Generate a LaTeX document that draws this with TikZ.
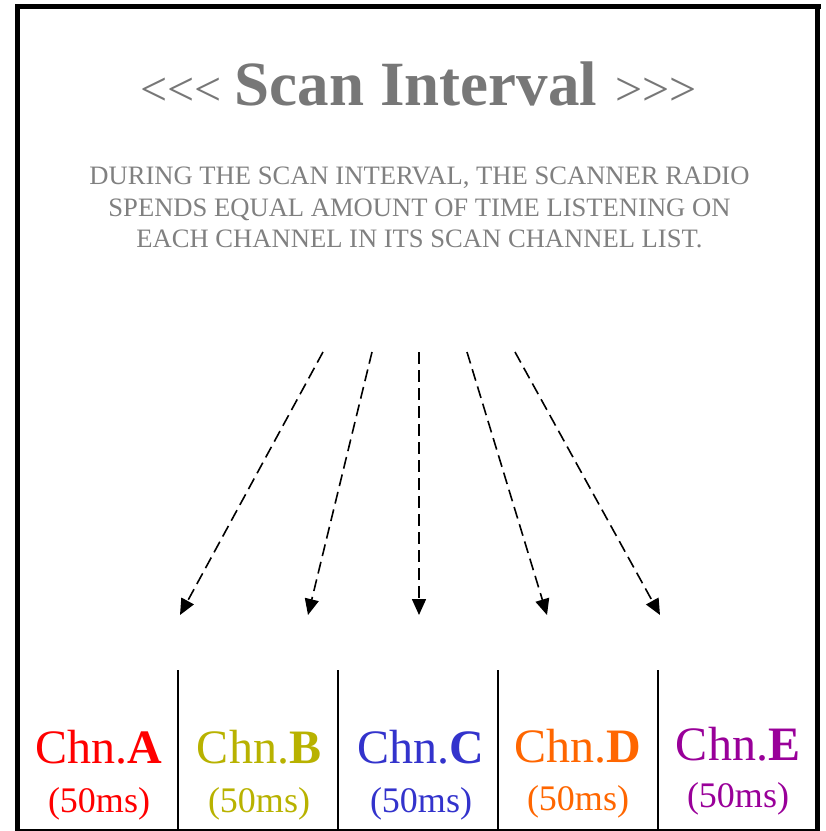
\documentclass[tikz,border=0pt]{standalone}
\usepackage{fontspec}
\setmainfont{Liberation Serif}
\usetikzlibrary{arrows.meta}
\definecolor{titlegray}{RGB}{119,119,119}
\definecolor{textgray}{RGB}{128,128,128}
\definecolor{chA}{RGB}{255,0,0}
\definecolor{chB}{RGB}{184,178,0}
\definecolor{chC}{RGB}{51,51,204}
\definecolor{chD}{RGB}{255,102,0}
\definecolor{chE}{RGB}{153,0,153}
\newcommand{\ltri}{\hbox{<}\hbox{<}\hbox{<}}
\newcommand{\gtri}{\hbox{>}\hbox{>}\hbox{>}}
\tikzset{
  frameline/.style={line width=5.3pt},
  divline/.style={line width=2pt},
  scanarrow/.style={line width=1.6pt, dash pattern=on 12pt off 6pt, -{Triangle[length=16pt,width=14pt]}},
  chlabel/.style={anchor=base, inner sep=0pt, font=\fontsize{48}{50}\selectfont},
  mslabel/.style={anchor=base, inner sep=0pt, font=\fontsize{36}{38}\selectfont},
  bodytext/.style={anchor=base, inner sep=0pt, text=textgray, font=\fontsize{26.6}{28}\selectfont},
}
\begin{document}
\begin{tikzpicture}[x=1pt,y=-1pt]
\useasboundingbox (0,0) rectangle (826,831);
% frame
\draw[frameline] (15,6.7) -- (820.5,6.7);
\draw[frameline] (17.7,4) -- (17.7,831);
\draw[frameline] (817.7,4) -- (817.7,831);
\draw[line width=1.8pt] (15,830) -- (818,830);
% dividers
\foreach \x in {178,338,498,658} \draw[divline] (\x,670) -- (\x,831);
% title
\node[anchor=base, inner sep=0pt, text=titlegray] (title) at (418.5,105)
  {{\fontsize{48}{50}\selectfont \ltri\hspace{13pt}}{\fontsize{63}{66}\selectfont\bfseries Scan Interval}{\fontsize{48}{50}\selectfont\hspace{18pt}\gtri}};
% body
\node[bodytext] (l1) at (419.5,184) {DURING THE SCAN INTERVAL, THE SCANNER RADIO};
\node[bodytext] (l2) at (419.5,216) {SPENDS EQUAL AMOUNT OF TIME LISTENING ON};
\node[bodytext] (l3) at (419.5,247) {EACH CHANNEL IN ITS SCAN CHANNEL LIST.};
% arrows
\coordinate (s1) at (323,352); \coordinate (t1) at (180,615);
\coordinate (s2) at (372,352); \coordinate (t2) at (308,615);
\coordinate (s3) at (419,352); \coordinate (t3) at (419,615);
\coordinate (s4) at (467,352); \coordinate (t4) at (547,615);
\coordinate (s5) at (515,352); \coordinate (t5) at (660,615);
\foreach \i in {1,...,5} \draw[scanarrow] (s\i) -- (t\i);
% channels
\node[chlabel, text=chA] (cA) at (99,763) {Chn.\textbf{A}};
\node[mslabel, text=chA] (mA) at (99,812) {(50ms)};
\node[chlabel, text=chB] (cB) at (259,763) {Chn.\textbf{B}};
\node[mslabel, text=chB] (mB) at (259,812) {(50ms)};
\node[chlabel, text=chC] (cC) at (421,763) {Chn.\textbf{C}};
\node[mslabel, text=chC] (mC) at (421,812) {(50ms)};
\node[chlabel, text=chD] (cD) at (578,762) {Chn.\textbf{D}};
\node[mslabel, text=chD] (mD) at (578,810) {(50ms)};
\node[chlabel, text=chE] (cE) at (738,760) {Chn.\textbf{E}};
\node[mslabel, text=chE] (mE) at (738,807) {(50ms)};
\end{tikzpicture}
\end{document}
